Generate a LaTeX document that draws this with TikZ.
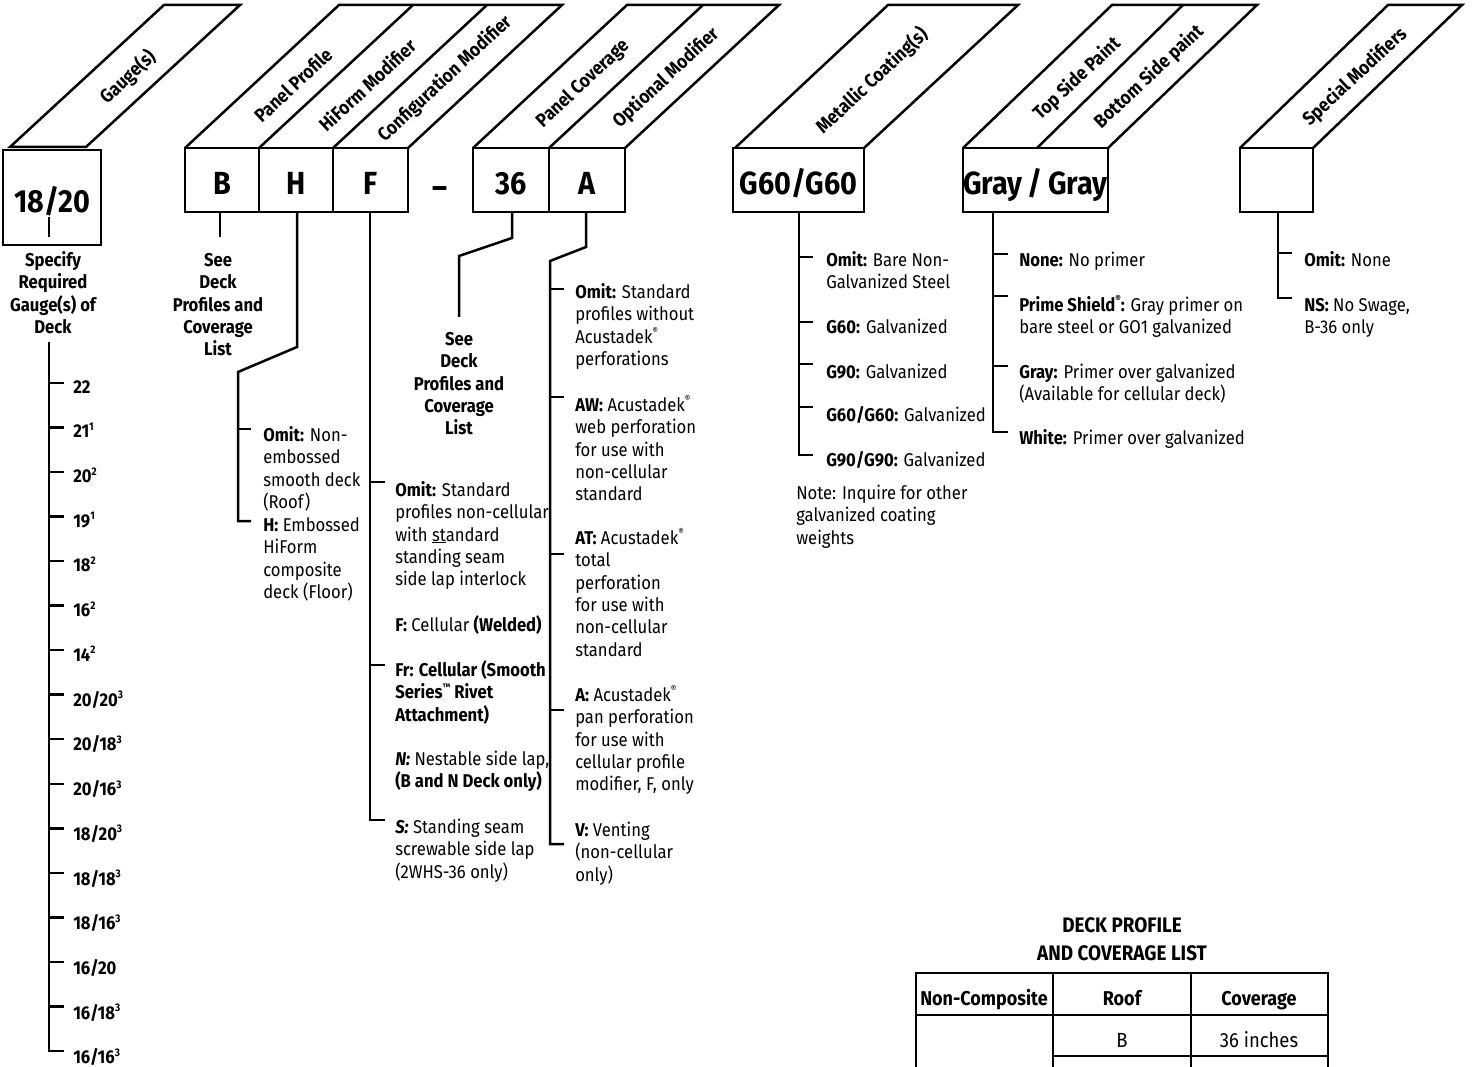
\documentclass[tikz,border=0pt]{standalone}
\usepackage{fontspec}
\setmainfont[FakeStretch=0.9]{Fira Sans}
\newcommand\zz{\rule{0pt}{17pt}}
\newcommand\rg{\raisebox{0.45em}{\fontsize{9.5}{9.5}\selectfont ®}}
\newcommand\tmk{\raisebox{0.45em}{\fontsize{9.5}{9.5}\selectfont ™}}
\newcommand\sps[1]{\raisebox{0.4em}{\fontsize{11}{11}\selectfont #1}}
\begin{document}
\begin{tikzpicture}[x=1pt,y=-1pt,line width=2.5pt,
  box/.style={draw,inner sep=0pt,minimum height=64pt,text height=30pt,text depth=0pt,font=\fontsize{32}{32}\selectfont\bfseries},
  hdr/.style={rotate=43,inner sep=0pt,font=\fontsize{19}{20}\selectfont\bfseries},
  desc/.style={anchor=north west,inner sep=0pt,align=left,yshift=17pt,font=\fontsize{18.5}{22.4}\selectfont},
  cdesc/.style={anchor=north,inner sep=0pt,align=center,yshift=17pt,font=\fontsize{18.5}{22.4}\selectfont\bfseries},
  glab/.style={anchor=base west,inner sep=0pt,font=\fontsize{18.5}{20}\selectfont\bfseries},
  tbl/.style={line width=2pt},
  ttxt/.style={anchor=base,inner sep=0pt,font=\fontsize{20.5}{24}\selectfont}
]
\fill[white] (0,0) rectangle (1481,1067);
\useasboundingbox (0,0) rectangle (1481,1067);

% ---------- boxes ----------
\node[box,minimum width=98pt,minimum height=95pt,text height=31pt] (g) at (52,197.5) {18/20};
\node[box,minimum width=74pt] (bB) at (222,180) {B};
\node[box,minimum width=74pt] (bH) at (296,180) {H};
\node[box,minimum width=75pt] (bF) at (370.5,180) {F};
\node[anchor=base,inner sep=0pt,font=\fontsize{32}{32}\selectfont\bfseries] (dash) at (440,199) {–};
\node[box,minimum width=76pt] (b36) at (511,180) {36};
\node[box,minimum width=76pt] (bA) at (587,180) {A};
\node[box,minimum width=131pt] (bG) at (798.5,180) {G60/G60};
\node[box,minimum width=145pt] (bP) at (1035.5,180) {Gray\hspace{0.17em}/\hspace{0.17em}Gray};
\node[box,minimum width=73pt] (bS) at (1276.5,180) {};

% ---------- header parallelograms ----------
\draw (10,147) -- (164,5) -- (240,5) -- (86,147) -- cycle;
\draw (185,148) -- (339,5) -- (562,5) -- (408,148);
\draw (259,148) -- (413,5);
\draw (333,148) -- (487,5);
\draw (473,148) -- (627,5) -- (779,5) -- (625,148);
\draw (549,148) -- (703,5);
\draw (735,148) -- (888,5) -- (1018,5) -- (864,148);
\draw (963,148) -- (1112,5) -- (1257,5) -- (1108,148);
\draw (1037,148) -- (1183,5);
\draw (1240,148) -- (1388,5) -- (1462,5) -- (1313,148);

\node[hdr] (hG) at (128,77) {Gauge(s)};
\node[hdr] (hPP) at (293,85) {Panel Profile};
\node[hdr] (hHM) at (367,85) {HiForm Modifier};
\node[hdr] (hCM) at (445,79) {Configuration Modifier};
\node[hdr] (hPC) at (583,84) {Panel Coverage};
\node[hdr] (hOM) at (666,78) {Optional Modifier};
\node[hdr] (hMC) at (872,81) {Metallic Coating(s)};
\node[hdr] (hTS) at (1077,79) {Top Side Paint};
\node[hdr] (hBS) at (1149,77) {Bottom Side paint};
\node[hdr] (hSM) at (1355,77) {Special Modifiers};

% ---------- gauge ----------
\coordinate (ga) at (49,217);
\coordinate (gb) at (49,237);
\draw (ga) -- (gb);
\node[cdesc] (gdesc) at (53,265) {\zz Specify\\Required\\Gauge(s) of\\Deck};
\coordinate (gtop) at (49,342);
\coordinate (gcorner) at (49,1051);
\coordinate (gcend) at (64,1051);
\draw (gtop) -- (gcorner) -- (gcend);
\foreach \lab [count=\i from 0] in {22,21\sps{1},20\sps{2},19\sps{1},18\sps{2},16\sps{2},14\sps{2},20/20\sps{3},20/18\sps{3},20/16\sps{3},18/20\sps{3},18/18\sps{3},18/16\sps{3},16/20,16/18\sps{3},16/16\sps{3}}{
  \coordinate (gt\i) at (49,383+44.53*\i);
  \coordinate (ge\i) at (64,383+44.53*\i);
  \draw (gt\i) -- (ge\i);
  \node[glab] (gl\i) at (72,393+44.73*\i) {\lab};
}

% ---------- B ----------
\coordinate (b1) at (220,237);
\draw (bB.south -| b1) -- (b1);
\node[cdesc] (bdesc) at (218,265) {\zz See\\Deck\\Profiles and\\Coverage\\List};

% ---------- H ----------
\coordinate (h1) at (297,347);
\coordinate (h2) at (238,372);
\coordinate (h3) at (238,521);
\coordinate (h3e) at (251,521);
\coordinate (h4) at (238,429);
\coordinate (h4e) at (251,429);
\draw (bH.south -| h1) -- (h1) -- (h2) -- (h3) -- (h3e);
\draw (h4) -- (h4e);
\node[desc] (hd1) at (262,440) {\zz\textbf{Omit:} Non-\\embossed\\smooth deck\\(Roof)};
\node[desc] (hd2) at (262,530) {\zz\textbf{H:} Embossed\\HiForm\\composite\\deck (Floor)};

% ---------- F ----------
\coordinate (f1) at (370,820);
\coordinate (f1e) at (385,820);
\coordinate (f2) at (370,482);
\coordinate (f2e) at (385,482);
\coordinate (f3) at (370,665);
\coordinate (f3e) at (385,665);
\draw (bF.south -| f1) -- (f1) -- (f1e);
\draw (f2) -- (f2e);
\draw (f3) -- (f3e);
\node[desc] (fd1) at (394,495) {\zz\textbf{Omit:} Standard\\profiles non-cellular\\with \underline{st}andard\\standing seam\\side lap interlock};
\node[desc] (fd2) at (394,630) {\zz\textbf{F:} Cellular \textbf{(Welded)}};
\node[desc] (fd3) at (394,675) {\zz\textbf{Fr: Cellular (Smooth}\\\textbf{Series\tmk{} Rivet}\\\textbf{Attachment)}};
\node[desc] (fd4) at (394,764) {\zz\textbf{\textit{N:}} Nestable side lap,\\\textbf{(B and N Deck only)}};
\node[desc] (fd5) at (394,832) {\zz\textbf{\textit{S:}} Standing seam\\screwable side lap\\(2WHS-36 only)};

% ---------- 36 ----------
\coordinate (c1) at (512,238);
\coordinate (c2) at (459,256);
\coordinate (c3) at (459,317);
\draw (b36.south -| c1) -- (c1) -- (c2) -- (c3);
\node[cdesc] (cdesc36) at (459,344) {\zz See\\Deck\\Profiles and\\Coverage\\List};

% ---------- A ----------
\coordinate (a1) at (586,247);
\coordinate (a2) at (550,261);
\coordinate (a3) at (550,844);
\coordinate (a3e) at (564,844);
\draw (bA.south -| a1) -- (a1) -- (a2) -- (a3) -- (a3e);
\foreach \yy [count=\k] in {289,397,554,710}{
  \coordinate (at\k) at (550,\yy);
  \coordinate (ate\k) at (564,\yy);
  \draw (at\k) -- (ate\k);
}
\node[desc] (ad1) at (574,297) {\zz\textbf{Omit:} Standard\\profiles without\\Acustadek\rg\\perforations};
\node[desc] (ad2) at (574,410) {\zz\textbf{AW:} Acustadek\rg\\web perforation\\for use with\\non-cellular\\standard};
\node[desc] (ad3) at (574,543) {\zz\textbf{AT:} Acustadek\rg\\total\\perforation\\for use with\\non-cellular\\standard};
\node[desc] (ad4) at (574,700) {\zz\textbf{A:} Acustadek\rg\\pan perforation\\for use with\\cellular profile\\modifier, F, only};
\node[desc] (ad5) at (574,835) {\zz\textbf{V:} Venting\\(non-cellular\\only)};

% ---------- G60 ----------
\coordinate (m1) at (799,455);
\coordinate (m1e) at (813,455);
\draw (bG.south -| m1) -- (m1) -- (m1e);
\foreach \yy [count=\k] in {257,322,364,407}{
  \coordinate (mt\k) at (799,\yy);
  \coordinate (mte\k) at (813,\yy);
  \draw (mt\k) -- (mte\k);
}
\node[desc] (md1) at (825,265) {\zz\textbf{Omit:} Bare Non-\\Galvanized Steel};
\node[desc] (md2) at (825,332) {\zz\textbf{G60:} Galvanized};
\node[desc] (md3) at (825,377) {\zz\textbf{G90:} Galvanized};
\node[desc] (md4) at (825,420) {\zz\textbf{G60/G60:} Galvanized};
\node[desc] (md5) at (825,465) {\zz\textbf{G90/G90:} Galvanized};
\node[desc] (mnote) at (795,498) {\zz Note: Inquire for other\\galvanized coating\\weights};

% ---------- paint ----------
\coordinate (p1) at (993,432);
\coordinate (p1e) at (1008,432);
\draw (bP.south -| p1) -- (p1) -- (p1e);
\foreach \yy [count=\k] in {254,296,366}{
  \coordinate (pt\k) at (993,\yy);
  \coordinate (pte\k) at (1008,\yy);
  \draw (pt\k) -- (pte\k);
}
\node[desc] (pd1) at (1018,265) {\zz\textbf{None:} No primer};
\node[desc] (pd2) at (1018,310) {\zz\textbf{Prime Shield\rg:} Gray primer on\\bare steel or GO1 galvanized};
\node[desc] (pd3) at (1018,377) {\zz\textbf{Gray:} Primer over galvanized\\(Available for cellular deck)};
\node[desc] (pd4) at (1018,443) {\zz\textbf{White:} Primer over galvanized};

% ---------- special ----------
\coordinate (s1) at (1278,298);
\coordinate (s1e) at (1292,298);
\coordinate (s2) at (1278,253);
\coordinate (s2e) at (1292,253);
\draw (bS.south -| s1) -- (s1) -- (s1e);
\draw (s2) -- (s2e);
\node[desc] (sd1) at (1303,265) {\zz\textbf{Omit:} None};
\node[desc] (sd2) at (1303,310) {\zz\textbf{NS:} No Swage,\\B-36 only};

% ---------- table ----------
\node[ttxt,font=\fontsize{21}{24}\selectfont\bfseries] (tt1) at (1122,932) {DECK PROFILE};
\node[ttxt,font=\fontsize{21}{24}\selectfont\bfseries] (tt2) at (1122,960) {AND COVERAGE LIST};
\draw[tbl] (916,1070) -- (916,973) -- (1328,973) -- (1328,1070);
\draw[tbl] (916,1015) -- (1328,1015);
\draw[tbl] (1053,973) -- (1053,1070);
\draw[tbl] (1191,973) -- (1191,1070);
\draw[tbl] (1053,1056) -- (1328,1056);
\node[ttxt,font=\fontsize{20}{24}\selectfont\bfseries] (th1) at (984,1005) {Non-Composite};
\node[ttxt,font=\fontsize{20}{24}\selectfont\bfseries] (th2) at (1122,1005) {Roof};
\node[ttxt,font=\fontsize{20}{24}\selectfont\bfseries] (th3) at (1259,1005) {Coverage};
\node[ttxt] (tc1) at (1122,1047) {B};
\node[ttxt] (tc2) at (1259,1047) {36 inches};
\end{tikzpicture}
\end{document}
